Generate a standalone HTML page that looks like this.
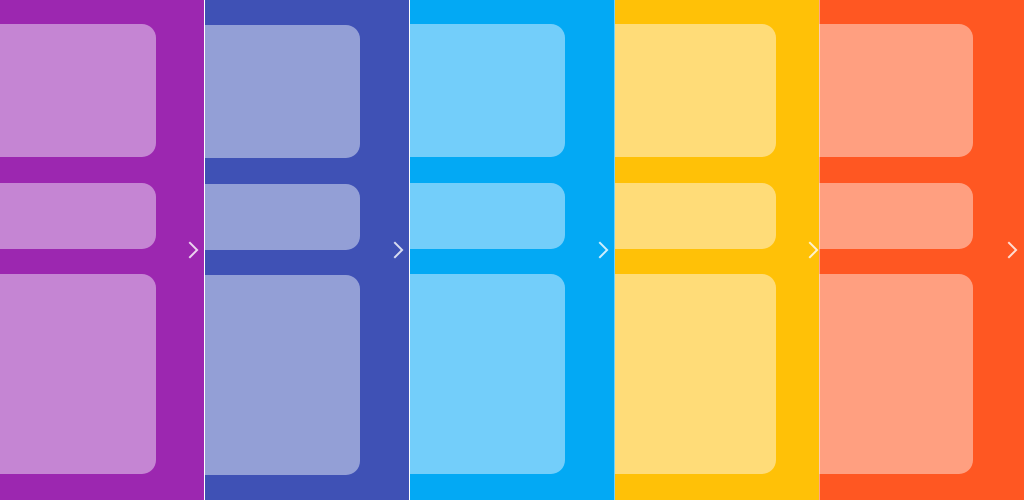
<!DOCTYPE html>
<html><head><meta charset="utf-8"><style>
body{margin:0;width:1024px;height:500px;overflow:hidden;position:relative;font-family:"Liberation Sans",sans-serif}
.col{position:absolute;top:0;height:500px}
.c{position:absolute;left:0;border-radius:0 14px 14px 0}
.chev{position:absolute;top:244px;width:10px;height:10px;border-top:2px solid rgba(255,255,255,.8);border-right:2px solid rgba(255,255,255,.8);transform:rotate(45deg)}
.line{position:absolute;top:0;width:1px;height:500px;background:rgba(255,255,255,.45)}
</style></head><body>
<div class="col" style="left:0;width:204px;background:#9C27B0">
<div class="c" style="top:24px;width:156px;height:133px;background:#C585D3"></div>
<div class="c" style="top:183px;width:156px;height:66px;background:#C585D3"></div>
<div class="c" style="top:274px;width:156px;height:200px;background:#C585D3"></div>
<div class="chev" style="left:184px"></div></div>
<div class="col" style="left:205px;width:204px;background:#3F51B5">
<div class="c" style="top:25px;width:155px;height:133px;background:#939FD6"></div>
<div class="c" style="top:184px;width:155px;height:66px;background:#939FD6"></div>
<div class="c" style="top:275px;width:155px;height:200px;background:#939FD6"></div>
<div class="chev" style="left:184px"></div></div>
<div class="col" style="left:410px;width:205px;background:#03A9F4">
<div class="c" style="top:24px;width:155px;height:133px;background:#73CEFA"></div>
<div class="c" style="top:183px;width:155px;height:66px;background:#73CEFA"></div>
<div class="c" style="top:274px;width:155px;height:200px;background:#73CEFA"></div>
<div class="chev" style="left:184px"></div></div>
<div class="col" style="left:615px;width:204px;background:#FFC107">
<div class="c" style="top:24px;width:161px;height:133px;background:#FFDC78"></div>
<div class="c" style="top:183px;width:161px;height:66px;background:#FFDC78"></div>
<div class="c" style="top:274px;width:161px;height:200px;background:#FFDC78"></div>
<div class="chev" style="left:189px"></div></div>
<div class="col" style="left:819px;width:205px;background:#FF5722">
<div class="c" style="top:24px;width:154px;height:133px;background:#FF9F80"></div>
<div class="c" style="top:183px;width:154px;height:66px;background:#FF9F80"></div>
<div class="c" style="top:274px;width:154px;height:200px;background:#FF9F80"></div>
<div class="chev" style="left:184px"></div></div>
<div class="line" style="left:204px"></div>
<div class="line" style="left:409px"></div>
<div class="line" style="left:614px"></div>
<div class="line" style="left:819px"></div>
</body></html>
